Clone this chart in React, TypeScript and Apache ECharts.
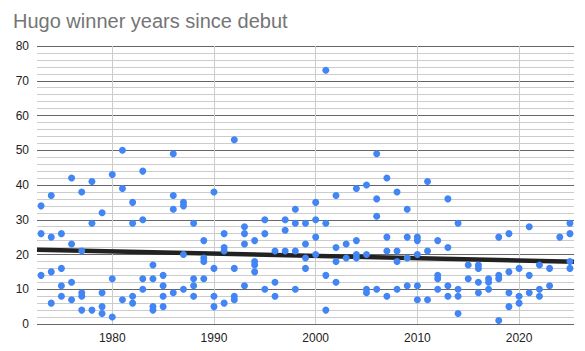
import React, { useEffect, useRef } from "react";
import * as echarts from "echarts";

const title = "Hugo winner years since debut";

const years: number[] = [
  1973, 1974, 1975, 1976, 1977, 1978, 1979, 1980, 1981, 1982, 1983, 1984, 1985,
  1986, 1987, 1988, 1989, 1990, 1991, 1992, 1993, 1994, 1995, 1996, 1997, 1998,
  1999, 2000, 2001, 2002, 2003, 2004, 2005, 2006, 2007, 2008, 2009, 2010, 2011,
  2012, 2013, 2014, 2015, 2016, 2017, 2018, 2019, 2020, 2021, 2022, 2023, 2024,
  2025,
];

const yearsSinceDebut: number[][] = [
  [34, 26, 14],
  [37, 25, 15, 6],
  [26, 16, 11, 8],
  [42, 23, 12, 7],
  [38, 21, 9, 8, 4],
  [41, 29, 4],
  [32, 9, 5, 3],
  [43, 13, 2],
  [50, 39, 7],
  [35, 29, 8, 6],
  [44, 30, 13, 10],
  [17, 13, 5, 4],
  [14, 11, 8, 5],
  [49, 37, 33, 9],
  [35, 34, 20, 10],
  [29, 13, 11, 8],
  [24, 19, 18, 13],
  [38, 16, 8, 5],
  [26, 22, 21, 6],
  [53, 16, 8, 7],
  [28, 26, 23, 11],
  [24, 18, 17, 15],
  [30, 26, 10],
  [21, 12, 8],
  [30, 27, 21],
  [33, 29, 21, 10],
  [29, 23, 19, 16],
  [35, 30, 25, 20],
  [73, 29, 14, 4],
  [37, 22, 18, 12],
  [23, 19],
  [39, 24, 20, 19],
  [40, 20, 10, 9],
  [49, 36, 31, 10],
  [42, 25, 21, 8],
  [38, 21, 18, 10],
  [33, 25, 19, 11],
  [25, 24, 20, 11, 7],
  [41, 21, 7],
  [24, 14, 13, 10],
  [36, 22, 11, 8],
  [29, 10, 8, 3],
  [17, 13],
  [17, 16, 12, 9],
  [13, 12, 10],
  [25, 14, 13, 1],
  [26, 15, 9, 5],
  [16, 8, 6],
  [28, 14, 9],
  [17, 10, 8],
  [16, 11],
  [25],
  [29, 26, 18, 16],
];

const xRange: number[] = [1972.6, 2025.4];
const trendYears: number[] = [1972.6, 2025.4];
const trendValues: number[] = [21.4, 17.9];

const FONT = "'Liberation Sans', Arial, Helvetica, sans-serif";

export default function App() {
  const ref = useRef<HTMLDivElement>(null);

  useEffect(() => {
    if (!ref.current) return;
    const chart = echarts.init(ref.current, undefined, { renderer: "svg" });

    const points: number[][] = [];
    years.forEach((yr, i) => {
      yearsSinceDebut[i].forEach((v) => points.push([yr, v]));
    });
    const trend = trendYears.map((x, i) => [x, trendValues[i]]);

    chart.setOption({
      animation: false,
      backgroundColor: "#ffffff",
      textStyle: { fontFamily: FONT },
      title: {
        text: title,
        left: 8,
        top: 6,
        textStyle: {
          fontFamily: FONT,
          fontSize: 20,
          fontWeight: "normal",
          color: "#757575",
        },
      },
      grid: {
        left: 37,
        right: 11,
        top: 46,
        bottom: 27,
        containLabel: false,
      },
      xAxis: {
        type: "value",
        min: xRange[0],
        max: xRange[1],
        splitNumber: 5,
        axisLine: { show: false },
        axisTick: { show: false },
        axisLabel: {
          showMinLabel: false,
          showMaxLabel: false,
          color: "#222222",
          fontSize: 12,
          fontFamily: FONT,
          margin: 8,
          formatter: (v: number) => (Math.abs(v % 10) < 1e-6 ? String(v) : ""),
        },
        splitLine: {
          show: true,
          showMinLine: false,
          showMaxLine: false,
          lineStyle: { color: "#cccccc", width: 1 },
        },
      },
      yAxis: {
        type: "value",
        min: 0,
        max: 80,
        interval: 10,
        axisLine: { show: false },
        axisTick: { show: false },
        axisLabel: {
          color: "#222222",
          fontSize: 12,
          fontFamily: FONT,
          margin: 8,
        },
        splitLine: {
          show: true,
          lineStyle: { color: "#666666", width: 1 },
        },
        minorTick: { show: false, splitNumber: 5 },
        minorSplitLine: {
          show: true,
          lineStyle: { color: "#cccccc", width: 1 },
        },
      },
      series: [
        {
          type: "line",
          data: trend,
          showSymbol: false,
          symbol: "none",
          z: 1,
          lineStyle: { color: "#222222", width: 4.5 },
          silent: true,
        },
        {
          type: "scatter",
          data: points,
          symbol: "circle",
          symbolSize: 7,
          z: 2,
          itemStyle: { color: "#4285f4", opacity: 1 },
        },
      ],
    });

    return () => chart.dispose();
  }, []);

  return (
    <div
      ref={ref}
      style={{ position: "absolute", left: 0, top: 0, width: 585, height: 351 }}
    />
  );
}
